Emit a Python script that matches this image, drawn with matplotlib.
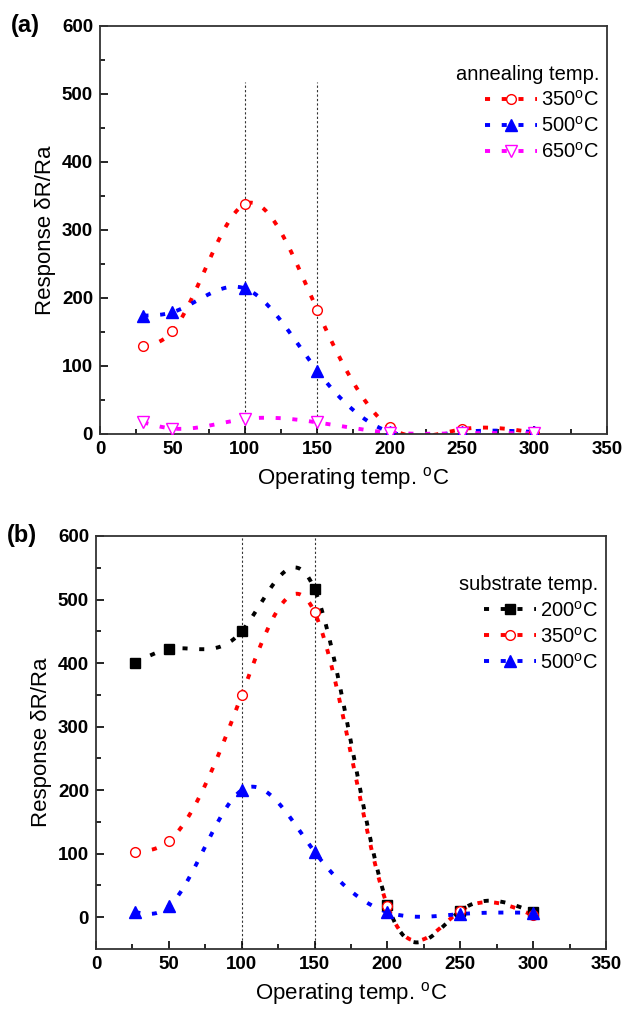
import numpy as np
import matplotlib
matplotlib.use('Agg')
import matplotlib.pyplot as plt
from matplotlib.ticker import MultipleLocator

plt.rcParams['font.family'] = ['Liberation Sans', 'DejaVu Sans']
plt.rcParams['mathtext.fontset'] = 'custom'
plt.rcParams['mathtext.rm'] = 'Liberation Sans'
plt.rcParams['mathtext.it'] = 'Liberation Sans'

# panel (a): annealing temperature
temp_a = [30, 50, 100, 150, 200, 250, 300]
anneal_350 = [129, 151, 338, 182, 10, 7, 2]
anneal_500 = [174, 179, 214, 93, 3, 3, 3]
anneal_650 = [17, 8, 22, 17, 2, 1, 1]

# panel (b): substrate temperature
temp_b = [27, 50, 100, 150, 200, 250, 300]
sub_200 = [400, 422, 450, 516, 20, 10, 8]
sub_350 = [103, 120, 350, 480, 18, 10, 3]
sub_500 = [8, 17, 200, 103, 8, 5, 7]

deg = r'$^{\rm o}$C'
dots = (0, (1.3, 3.0))


def spline(x, y, n=300):
    # natural cubic spline, like the connect-by-spline option
    x = np.asarray(x, float)
    y = np.asarray(y, float)
    k = len(x)
    h = np.diff(x)
    A = np.zeros((k, k))
    b = np.zeros(k)
    A[0, 0] = A[-1, -1] = 1
    for i in range(1, k - 1):
        A[i, i - 1] = h[i - 1]
        A[i, i] = 2 * (h[i - 1] + h[i])
        A[i, i + 1] = h[i]
        b[i] = 6 * ((y[i + 1] - y[i]) / h[i] - (y[i] - y[i - 1]) / h[i - 1])
    M = np.linalg.solve(A, b)
    xs = np.linspace(x[0], x[-1], n)
    j = np.clip(np.searchsorted(x, xs) - 1, 0, k - 2)
    t1 = x[j + 1] - xs
    t0 = xs - x[j]
    hj = h[j]
    ys = (M[j] * t1 ** 3 + M[j + 1] * t0 ** 3) / (6 * hj) \
        + (y[j] / hj - M[j] * hj / 6) * t1 + (y[j + 1] / hj - M[j + 1] * hj / 6) * t0
    return xs, ys


def panel(ax, x, series, title, ymin, vtop, tag):
    for y, c, m, mfc, ms, lab in series:
        xs, ys = spline(x, y)
        ax.plot(xs, ys, color=c, lw=2.8, ls=dots, zorder=2)
        ax.plot(x, y, ls='none', marker=m, ms=ms, color=c, mfc=mfc, mec=c, mew=1, zorder=3)
        ax.plot([], [], color=c, lw=2.8, ls=dots, marker=m, ms=ms, mfc=mfc, mec=c,
                mew=1, label=lab)
    for xv in (100, 150):
        ax.plot([xv, xv], [ymin, vtop], color='#333333', lw=0.8, ls=(0, (2, 2)), zorder=1)
    ax.set_xlim(0, 350)
    ax.set_ylim(ymin, 600)
    ax.xaxis.set_major_locator(MultipleLocator(50))
    ax.xaxis.set_minor_locator(MultipleLocator(25))
    ax.set_yticks(range(0, 601, 100))
    ax.set_yticks(range(50, 600, 100), minor=True)
    ax.tick_params(direction='in', which='major', length=6, width=1.2, labelsize=13.5, pad=5)
    ax.tick_params(direction='in', which='minor', length=3.5, width=1.2)
    for lb in ax.get_xticklabels() + ax.get_yticklabels():
        lb.set_fontweight('bold')
    for sp in ax.spines.values():
        sp.set_linewidth(1.3)
        sp.set_color('#333333')
    ax.set_xlabel('Operating temp. ' + deg, fontsize=16, labelpad=5)
    ax.set_ylabel('Response δR/Ra', fontsize=16, labelpad=4)
    leg = ax.legend(title=title, loc='upper right', bbox_to_anchor=(0.985, 0.905), frameon=False,
                    fontsize=14.5, title_fontsize=14.5, handlelength=2.6, handletextpad=0.2,
                    labelspacing=0.3, borderaxespad=0, borderpad=0)
    leg._legend_box.align = 'right'
    ax.text(-0.175, 1.0, tag, transform=ax.transAxes, fontsize=17, fontweight='bold',
            va='center', ha='left')


fig = plt.figure(figsize=(6.25, 10.13), dpi=100)
ax1 = fig.add_axes([0.16, 0.5716, 0.811, 0.4028])
ax2 = fig.add_axes([0.1536, 0.0632, 0.816, 0.4077])

panel(ax1, temp_a, [
    (anneal_350, 'red', 'o', 'white', 7, '350' + deg),
    (anneal_500, 'blue', '^', 'blue', 8, '500' + deg),
    (anneal_650, 'magenta', 'v', 'white', 8, '650' + deg),
], 'annealing temp.', 0, 518, '(a)')

panel(ax2, temp_b, [
    (sub_200, 'black', 's', 'black', 7, '200' + deg),
    (sub_350, 'red', 'o', 'white', 7, '350' + deg),
    (sub_500, 'blue', '^', 'blue', 8, '500' + deg),
], 'substrate temp.', -50, 600, '(b)')

fig.savefig('out.png', dpi=100)
